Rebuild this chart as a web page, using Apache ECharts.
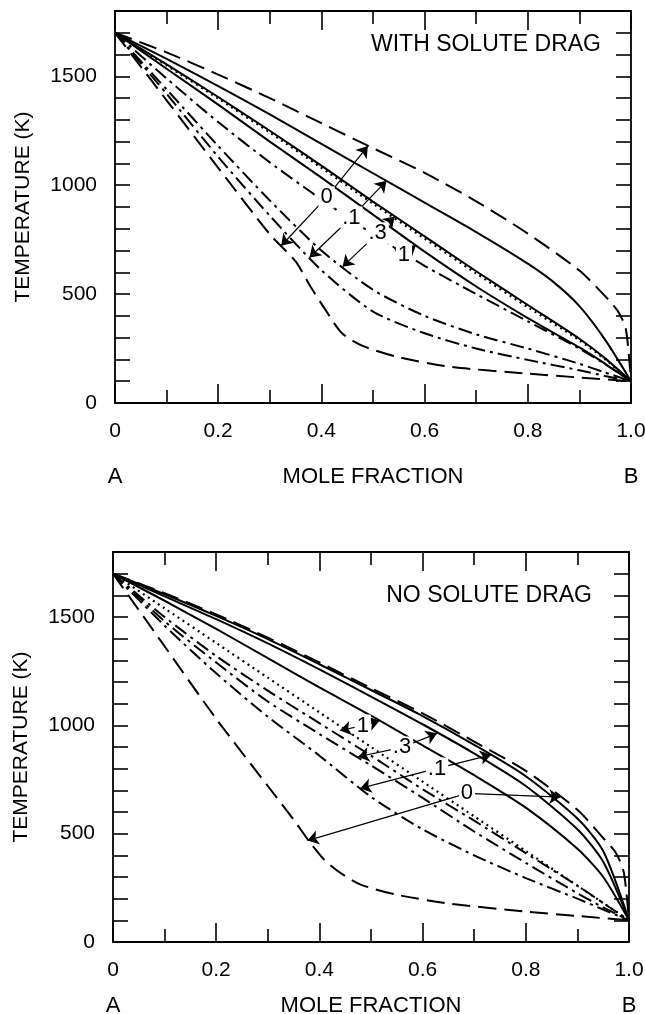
<!DOCTYPE html>
<html><head><meta charset="utf-8">
<script src="https://cdn.jsdelivr.net/npm/echarts@6/dist/echarts.min.js"></script>
<style>html,body{margin:0;padding:0;background:#fff;}#c{width:645px;height:1014px;}</style>
</head><body><div id="c"></div>
<script>
// ---------- DATA ----------
const gridX = [0, 0.1, 0.2, 0.3, 0.4, 0.5, 0.6, 0.7, 0.8, 0.9, 0.95, 1.0];
const liq0X = [0, 0.1, 0.2, 0.3, 0.4, 0.5, 0.6, 0.7, 0.8, 0.9, 0.95, 0.975, 0.99, 1.0];
const liq01X = [0, 0.1, 0.2, 0.3, 0.4, 0.5, 0.6, 0.7, 0.8, 0.85, 0.9, 0.95, 1.0];
const sol0X = [0, 0.1, 0.2, 0.3, 0.35, 0.38, 0.41, 0.44, 0.48, 0.55, 0.65, 0.8, 0.9, 1.0];

// WITH SOLUTE DRAG (top panel)
const dragLiq0  = [1700,1610,1508,1400,1285,1170,1057,926,778,608,490,420,340,100];
const dragLiq01 = [1700,1580,1455,1325,1190,1055,920,785,640,555,445,290,100];
const dragLiq03 = [1700,1555,1405,1250,1090,925,765,605,450,295,205,100];
const dragT0    = [1700,1550,1398,1242,1080,915,755,595,440,288,200,100];
const dragLiq1  = [1700,1535,1370,1200,1035,865,695,535,390,255,180,100];
const dragSol1  = [1700,1490,1290,1105,935,775,630,500,375,250,178,100];
const dragSol03 = [1700,1440,1180,930,700,520,400,315,250,180,140,100];
const dragSol01 = [1700,1420,1130,860,610,420,320,250,198,150,124,100];
const dragSol0  = [1700,1390,1080,775,650,530,420,320,262,210,166,135,117,100];

// NO SOLUTE DRAG (bottom panel)
const noLiq0  = [1700,1610,1512,1405,1290,1172,1055,925,790,610,480,410,320,100];
const noLiq01 = [1700,1605,1505,1398,1282,1163,1043,910,765,570,420,100];
const noLiq03 = [1700,1595,1490,1378,1258,1133,1005,870,720,520,370,100];
const noLiq1  = [1700,1575,1445,1310,1175,1045,908,770,620,430,300,100];
const noDot   = [1700,1540,1380,1220,1060,900,740,580,420,260,180,100];
const noSol1  = [1700,1500,1320,1160,1010,860,705,560,410,260,180,100];
const noSol03 = [1700,1480,1290,1110,960,815,665,510,365,225,160,100];
const noSol01 = [1700,1460,1240,1040,860,670,520,400,295,200,150,100];
const noSol0  = [1700,1365,1030,720,565,465,378,320,265,218,178,140,120,100];

// velocity labels with arrow targets [label, labelPos, target1, target2]
const dragNotes = [
  ['0',  [0.410, 944], [0.490,1180], [0.322,722]],
  ['.1', [0.458, 852], [0.526,1020], [0.377,668]],
  ['.3', [0.509, 779], [0.542, 856], [0.441,626]],
  ['1',  [0.560, 682], [0.583, 724], [0.541,715]]
];
const noNotes = [
  ['1',  [0.484, 999], [0.517,1022], [0.440,976]],
  ['.3', [0.560, 898], [0.628, 963], [0.475,855]],
  ['.1', [0.628, 801], [0.733, 864], [0.479,709]],
  ['0',  [0.686, 686], [0.867, 669], [0.377,468]]
];
const xTickLabels = ['0','0.2','0.4','0.6','0.8','1.0'];
const yTickLabels = ['0','500','1000','1500'];
const panelTitles = ['WITH SOLUTE DRAG', 'NO SOLUTE DRAG'];

// ---------- CHART ----------
const FONT = 'Liberation Sans';
const pair = (xs, ys) => ys.map((y, i) => [xs[i], y]);
const STY = {
  dashed:  {type: [18, 8], width: 2},
  solid:   {type: 'solid', width: 2},
  dashdot: {type: [14, 5, 3, 5], width: 2},
  dotted:  {type: [2, 4], width: 2.2}
};
function curve(g, xs, ys, sty) {
  return {type: 'line', xAxisIndex: g*2, yAxisIndex: g*2, data: pair(xs, ys),
    symbol: 'none', smooth: 0.25, silent: true,
    lineStyle: Object.assign({color: '#000'}, STY[sty]), z: 3};
}
function notes(g, list) {
  const lines = [];
  const pts = [];
  list.forEach(n => {
    lines.push({coords: [n[1], n[2]]});
    lines.push({coords: [n[1], n[3]]});
    pts.push({value: n[1], name: n[0]});
  });
  return [
    {type: 'lines', coordinateSystem: 'cartesian2d', xAxisIndex: g*2, yAxisIndex: g*2,
      data: lines, symbol: ['none', 'arrow'], symbolSize: [7, 11], silent: true,
      lineStyle: {color: '#000', width: 1.2, opacity: 1, curveness: 0}, z: 4},
    {type: 'scatter', xAxisIndex: g*2, yAxisIndex: g*2, data: pts, symbolSize: 0, silent: true, z: 6,
      itemStyle: {opacity: 1, color: '#000'},
      label: {show: true, position: 'inside', formatter: p => p.name, fontFamily: FONT, fontSize: 22,
        color: '#000', opacity: 1, textBorderWidth: 0, backgroundColor: '#fff', padding: [0, 2]}}
  ];
}
const grids = [
  {left: 115, right: 14, top: 11, height: 392, outerBoundsMode: 'none', containLabel: false},
  {left: 113, right: 16, top: 552, height: 390, outerBoundsMode: 'none', containLabel: false}
];
const xAxes = [], yAxes = [];
const labelLH2 = [68, 48];
const nameGaps = [63, 53];
grids.forEach((g, i) => {
  const axisLine = {show: true, onZero: false, lineStyle: {color: '#000', width: 1.8}};
  const tick = (len) => ({inside: true, length: len, lineStyle: {color: '#000', width: 1.6}});
  xAxes.push({gridIndex: i, type: 'value', min: 0, max: 1, interval: 0.2, position: 'bottom',
    axisLine, splitLine: {show: false}, axisTick: tick(19),
    minorTick: {show: true, splitNumber: 2, length: 13, lineStyle: {color: '#000', width: 1.6}},
    minorSplitLine: {show: false},
    axisLabel: {margin: 16, fontFamily: FONT, fontSize: 21, color: '#000',
      formatter: v => {
        const k = Math.round(v * 5);
        const t = xTickLabels[k];
        if (k === 0) return '{n|' + t + '}\n{ab|A}';
        if (k === 5) return '{n|' + t + '}\n{ab|B}';
        return '{n|' + t + '}';
      },
      rich: {n: {lineHeight: 24, fontFamily: FONT, fontSize: 21}, ab: {lineHeight: labelLH2[i], fontFamily: FONT, fontSize: 22}}},
    name: 'MOLE FRACTION', nameLocation: 'middle', nameGap: nameGaps[i], nameMoveOverlap: false,
    nameTextStyle: {fontFamily: FONT, fontSize: 22, color: '#000'}});
  xAxes.push({gridIndex: i, type: 'value', min: 0, max: 1, interval: 0.2, position: 'top',
    axisLine, splitLine: {show: false}, axisLabel: {show: false}, axisTick: tick(19),
    minorTick: {show: true, splitNumber: 2, length: 13, lineStyle: {color: '#000', width: 1.6}}});
  yAxes.push({gridIndex: i, type: 'value', min: 0, max: 1800, interval: 100, position: 'left',
    axisLine, splitLine: {show: false}, axisTick: tick(15),
    axisLabel: {margin: 18, fontFamily: FONT, fontSize: 21, color: '#000',
      formatter: v => (v % 500 === 0 && v <= 1500) ? yTickLabels[v / 500] : ''},
    name: 'TEMPERATURE (K)', nameLocation: 'middle', nameRotate: 90, nameGap: 81, nameMoveOverlap: false,
    nameTextStyle: {fontFamily: FONT, fontSize: 21, color: '#000'}});
  yAxes.push({gridIndex: i, type: 'value', min: 0, max: 1800, interval: 100, position: 'right',
    axisLine, splitLine: {show: false}, axisLabel: {show: false}, axisTick: tick(15)});
});

const series = [
  curve(0, liq0X, dragLiq0, 'dashed'),
  curve(0, liq01X, dragLiq01, 'solid'),
  curve(0, gridX, dragLiq03, 'solid'),
  curve(0, gridX, dragT0, 'dotted'),
  curve(0, gridX, dragLiq1, 'solid'),
  curve(0, gridX, dragSol1, 'dashdot'),
  curve(0, gridX, dragSol03, 'dashdot'),
  curve(0, gridX, dragSol01, 'dashdot'),
  curve(0, sol0X, dragSol0, 'dashed'),
  curve(1, liq0X, noLiq0, 'dashed'),
  curve(1, gridX, noLiq01, 'solid'),
  curve(1, gridX, noLiq03, 'solid'),
  curve(1, gridX, noLiq1, 'solid'),
  curve(1, gridX, noDot, 'dotted'),
  curve(1, gridX, noSol1, 'dashdot'),
  curve(1, gridX, noSol03, 'dashdot'),
  curve(1, gridX, noSol01, 'dashdot'),
  curve(1, sol0X, noSol0, 'dashed'),
  ...notes(0, dragNotes),
  ...notes(1, noNotes)
];

const chart = echarts.init(document.getElementById('c'), null, {renderer: 'canvas'});
chart.setOption({
  animation: false,
  backgroundColor: '#fff',
  title: [
    {text: panelTitles[0], right: 44, top: 33, padding: 0,
      textStyle: {fontFamily: FONT, fontSize: 23, fontWeight: 'normal', color: '#000', lineHeight: 24}},
    {text: panelTitles[1], right: 53, top: 584, padding: 0,
      textStyle: {fontFamily: FONT, fontSize: 23, fontWeight: 'normal', color: '#000', lineHeight: 24}}
  ],
  grid: grids,
  xAxis: xAxes,
  yAxis: yAxes,
  series
});
</script>
</body></html>
